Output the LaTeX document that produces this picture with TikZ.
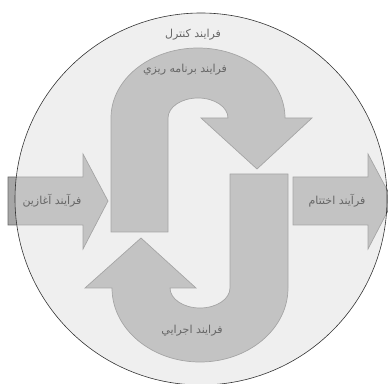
\documentclass[tikz,border=0pt]{standalone}
\usepackage{fontspec}
\newfontfamily\arabicfont[Script=Arabic]{DejaVu Sans}
\TeXXeTstate=1
\definecolor{shapefill}{HTML}{A6A6A6}
\definecolor{shapeline}{HTML}{6A6A6A}
\definecolor{discfill}{HTML}{E0E0E0}
\definecolor{labelgray}{HTML}{666666}
\tikzset{
  procshape/.style={fill=shapefill, draw=shapeline, line width=0.7pt, line join=miter},
  disc/.style={fill=discfill, fill opacity=0.5, draw=black!80, line width=0.6pt},
  lbl/.style={text=labelgray, font=\arabicfont\fontsize{11}{13}\selectfont, inner sep=0pt}
}
\begin{document}
\begin{tikzpicture}[x=1pt,y=1pt]
\useasboundingbox (0,0) rectangle (388,383);
\clip (0,0) rectangle (388,383);
% start arrow
\draw[procshape] (8,158) -- (83,158) -- (83,134) -- (108,182) -- (83,229) -- (83,206) -- (8,206) -- cycle;
% end arrow
\draw[procshape] (293,158) -- (368,158) -- (368,134) -- (393,182) -- (368,229) -- (368,206) -- (293,206) -- cycle;
% planning U-turn (top)
\draw[procshape] (111,151) -- (111,265) arc[start angle=180,end angle=0,x radius=87,y radius=70]
  -- (312,265) -- (257,214) -- (201,265) -- (228,265)
  arc[start angle=0,end angle=180,x radius=30,y radius=20] -- (168,151) -- cycle;
% execution U-turn (bottom)
\draw[procshape] (288,209) -- (288,95) arc[start angle=0,end angle=-180,x radius=88,y radius=74]
  -- (85,95) -- (141,145) -- (196,95) -- (170,95)
  arc[start angle=180,end angle=360,x radius=30,y radius=20] -- (230,209) -- cycle;
% control disc on top
\node[disc, circle, minimum size=372pt, inner sep=0pt] (ctrl) at (201,184) {};
% labels
\node[lbl] (lctrl) at (193,348) {\beginR فرایند کنترل\endR};
\node[lbl] (lplan) at (185,313) {\beginR فرایند برنامه ریزي\endR};
\node[lbl] (lstart) at (52,182) {\beginR فرآیند آغازین\endR};
\node[lbl] (lend) at (337,182) {\beginR فرآیند اختتام\endR};
\node[lbl] (lexec) at (192,52) {\beginR فرایند اجرايي\endR};
\end{tikzpicture}
\end{document}
